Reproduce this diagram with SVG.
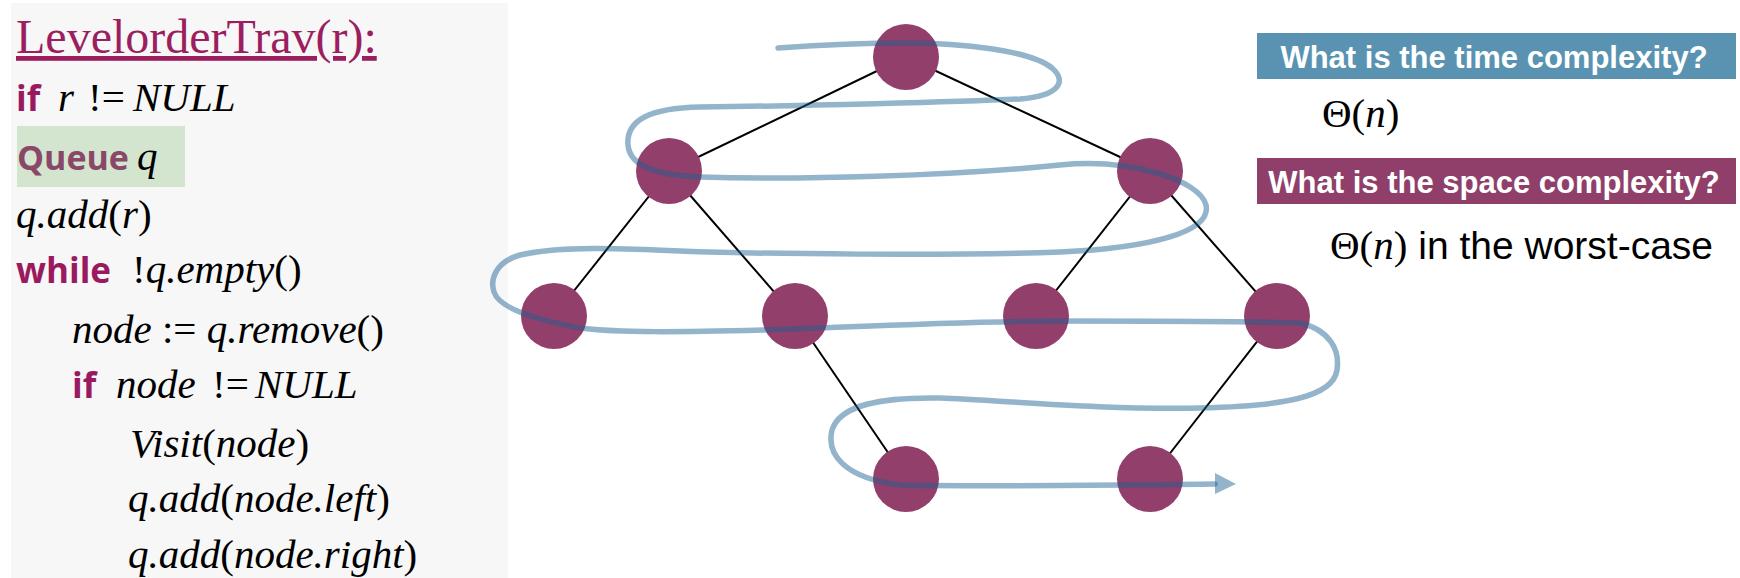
<svg xmlns="http://www.w3.org/2000/svg" width="1740" height="578" viewBox="0 0 1740 578">
<defs>
<style>
.kw{font-family:"Open Sans","Noto Sans",sans-serif;font-weight:700;font-size:35px;fill:#9a1a60}
.kwq{font-family:"Open Sans","Noto Sans",sans-serif;font-weight:700;font-size:34px;fill:#8a4868}
.m{font-family:"Liberation Serif","Times New Roman",serif;font-size:41px;fill:#000}
.it{font-style:italic}
.edge{stroke:#000;stroke-width:2;fill:none}
.node{fill:#923f6b}
.trail{fill:none;stroke:#1a6090;stroke-opacity:0.47;stroke-width:5.5;stroke-linecap:round;stroke-linejoin:round}
.q{font-family:"Liberation Sans",Arial,sans-serif;font-weight:700;font-size:31px;fill:#fff}
.ans{font-family:"Liberation Sans",Arial,sans-serif;font-size:39px;fill:#000}
.title{font-family:"Liberation Serif","Times New Roman",serif;font-size:48px;fill:#9b1f5f;text-decoration:underline;text-decoration-skip-ink:none}
</style>
</defs>
<rect width="1740" height="578" fill="#fff"/>
<rect x="11" y="3" width="497" height="575" fill="#f7f7f7"/>

<g id="code">
<text x="16" y="53" class="title">LevelorderTrav(r):</text>
<text y="111" class="m"><tspan x="16" class="kw">if</tspan><tspan x="58" class="it">r</tspan><tspan x="88">!=</tspan><tspan x="133" class="it">NULL</tspan></text>
<rect x="17" y="126" width="168" height="61" fill="#d4e5cf"/>
<text y="170" class="m"><tspan x="17" class="kwq">Queue</tspan><tspan x="137" class="it">q</tspan></text>
<text x="16" y="228" class="m"><tspan class="it">q.add</tspan>(<tspan class="it">r</tspan>)</text>
<text y="283" class="m"><tspan x="16" class="kw">while</tspan><tspan x="132">!</tspan><tspan class="it">q.empty</tspan>()</text>
<text x="72" y="343" class="m"><tspan class="it">node</tspan> := <tspan class="it">q.remove</tspan>()</text>
<text y="398" class="m"><tspan x="72" class="kw">if</tspan><tspan x="116" class="it">node</tspan><tspan x="212">!=</tspan><tspan x="255" class="it">NULL</tspan></text>
<text x="130" y="457" class="m"><tspan class="it">Visit</tspan>(<tspan class="it">node</tspan>)</text>
<text x="128" y="512" class="m"><tspan class="it">q.add</tspan>(<tspan class="it">node.left</tspan>)</text>
<text x="128" y="568" class="m"><tspan class="it">q.add</tspan>(<tspan class="it">node.right</tspan>)</text>
</g>

<g id="connectors">
<line class="edge" x1="906" y1="57" x2="669" y2="171"/>
<line class="edge" x1="906" y1="57" x2="1150" y2="171"/>
<line class="edge" x1="669" y1="171" x2="554" y2="316"/>
<line class="edge" x1="669" y1="171" x2="795" y2="316"/>
<line class="edge" x1="1150" y1="171" x2="1036" y2="316"/>
<line class="edge" x1="1150" y1="171" x2="1277" y2="316"/>
<line class="edge" x1="795" y1="316" x2="906" y2="479"/>
<line class="edge" x1="1277" y1="316" x2="1150" y2="479"/>
</g>

<g id="node-root"><circle class="node" cx="906" cy="57" r="33"/></g>
<g id="node-l1a"><circle class="node" cx="669" cy="171" r="33"/></g>
<g id="node-l1b"><circle class="node" cx="1150" cy="171" r="33"/></g>
<g id="node-l2a"><circle class="node" cx="554" cy="316" r="33"/></g>
<g id="node-l2b"><circle class="node" cx="795" cy="316" r="33"/></g>
<g id="node-l2c"><circle class="node" cx="1036" cy="316" r="33"/></g>
<g id="node-l2d"><circle class="node" cx="1277" cy="316" r="33"/></g>
<g id="node-l3a"><circle class="node" cx="906" cy="479" r="33"/></g>
<g id="node-l3b"><circle class="node" cx="1150" cy="479" r="33"/></g>

<g id="traversal">
<path class="trail" d="M 778 48 C 820 45, 860 43, 906 43 C 960 43, 1030 50, 1052 68 C 1068 82, 1058 96, 1020 99 C 960 102, 800 106, 700 107 C 650 108, 626 120, 628 145 C 630 168, 660 175, 700 177 C 800 180, 950 176, 1060 165 C 1130 158, 1200 180, 1206 205 C 1212 232, 1150 248, 1060 252 C 950 256, 760 254, 680 251 C 620 248, 560 246, 520 255 C 495 262, 490 280, 494 292 C 500 310, 540 320, 580 328 C 620 333, 680 332, 763 330 C 850 327, 950 322, 1050 321 C 1150 321, 1250 321, 1300 323 C 1330 330, 1340 350, 1337 370 C 1333 398, 1280 406, 1200 408 C 1100 410, 1000 400, 940 398 C 880 397, 840 405, 832 430 C 826 455, 845 478, 900 485 C 1000 487, 1100 485, 1215 484"/>
<polygon points="1215,473 1236,484 1215,494" fill="#1a6090" fill-opacity="0.47"/>
</g>

<g id="time-q">
<rect x="1257" y="33" width="479" height="46" fill="#5a93b2"/>
<text x="1494" y="68" class="q" text-anchor="middle">What is the time complexity?</text>
</g>
<g id="time-a">
<text x="1322" y="127" class="m" font-size="38">Θ(<tspan class="it">n</tspan>)</text>
</g>
<g id="space-q">
<rect x="1257" y="158" width="479" height="46" fill="#8f3f69"/>
<text x="1494" y="193" class="q" text-anchor="middle">What is the space complexity?</text>
</g>
<g id="space-a">
<text x="1330" y="259"><tspan class="m" font-size="38">Θ(</tspan><tspan class="m it" font-size="38">n</tspan><tspan class="m" font-size="38">)</tspan><tspan class="ans"> in the worst-case</tspan></text>
</g>
</svg>
